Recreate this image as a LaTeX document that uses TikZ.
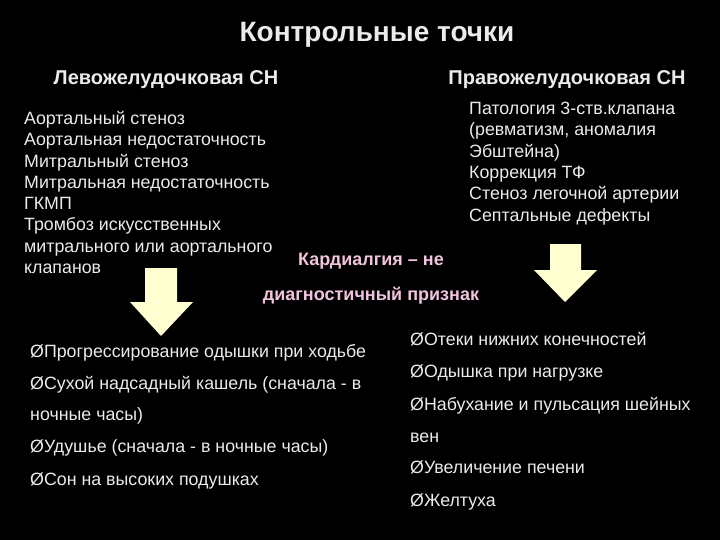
\documentclass[tikz,border=0pt]{standalone}
\usepackage{fontspec}
\setmainfont{Liberation Sans}
\begin{document}
\begin{tikzpicture}[x=1pt,y=-1pt,
 t/.style={anchor=base west,inner sep=0,text=white!92!black,font=\fontsize{17.8}{21.3}\selectfont},
 hd/.style={anchor=base,inner sep=0,text=white!92!black,font=\bfseries\fontsize{20}{24}\selectfont},
 pk/.style={anchor=base,inner sep=0,text={rgb,255:red,240;green,196;blue,220},font=\bfseries\fontsize{18}{22}\selectfont},
 arr/.style={fill={rgb,255:red,255;green,255;blue,210}}]
\useasboundingbox[fill=black] (0,0) rectangle (720,540);
\node[hd,font=\bfseries\fontsize{28}{32}\selectfont] (title) at (377,42) {Контрольные точки};
\node[hd] (lh) at (166,85) {Левожелудочковая СН};
\node[hd] (rh) at (567,85) {Правожелудочковая СН};
\node[t,align=left,anchor=north west] (left) at (24,111) {Аортальный стеноз\\Аортальная недостаточность\\Митральный стеноз\\Митральная недостаточность\\ГКМП\\Тромбоз искусственных\\митрального или аортального\\клапанов};
\node[t,align=left,anchor=north west] (right) at (469,102) {Патология 3-ств.клапана\\(ревматизм, аномалия\\Эбштейна)\\Коррекция ТФ\\Стеноз легочной артерии\\Септальные дефекты};
\node[pk] (p1) at (371,265) {Кардиалгия – не};
\node[pk] (p2) at (371,300) {диагностичный признак};
\fill[arr] (145,268) -- (177,268) -- (177,302) -- (193,302) -- (161,336) -- (130,302) -- (145,302) -- cycle;
\fill[arr] (550,244) -- (581,244) -- (581,270) -- (597,270) -- (565,302) -- (534,270) -- (550,270) -- cycle;
\node[t] (l1) at (30,357) {ØПрогрессирование одышки при ходьбе};
\node[t] (l2) at (30,389) {ØСухой надсадный кашель (сначала - в};
\node[t] (l3) at (30,420) {ночные часы)};
\node[t] (l4) at (30,452) {ØУдушье (сначала - в ночные часы)};
\node[t] (l5) at (30,485) {ØСон на высоких подушках};
\node[t] (r1) at (410,345) {ØОтеки нижних конечностей};
\node[t] (r2) at (410,377) {ØОдышка при нагрузке};
\node[t] (r3) at (410,410) {ØНабухание и пульсация шейных};
\node[t] (r4) at (410,442) {вен};
\node[t] (r5) at (410,473) {ØУвеличение печени};
\node[t] (r6) at (410,506) {ØЖелтуха};
\end{tikzpicture}
\end{document}
